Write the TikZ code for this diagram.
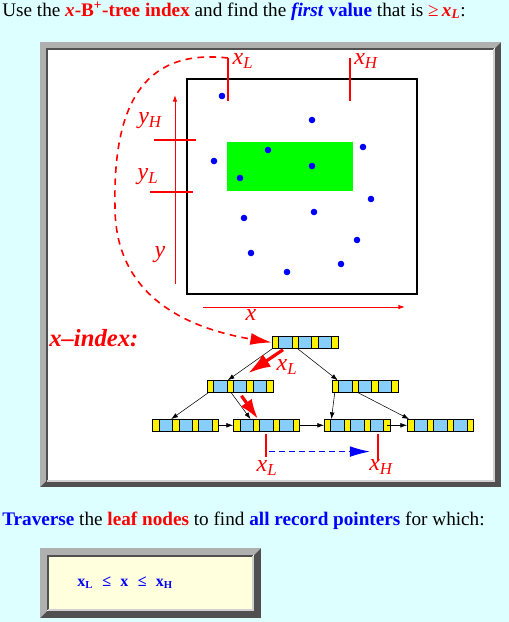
\documentclass[tikz,border=0pt]{standalone}
\usepackage{fontspec}
\setmainfont{Liberation Serif}
\usetikzlibrary{arrows.meta,calc}

\definecolor{pagecyan}{RGB}{221,255,255}
\definecolor{cellblue}{RGB}{135,206,250}
\definecolor{framelight}{RGB}{176,176,176}
\definecolor{framedark}{RGB}{80,80,80}
\definecolor{boxyellow}{RGB}{255,255,221}
\definecolor{hitgreen}{RGB}{0,255,0}

\begin{document}
\begin{tikzpicture}[x=0.75pt, y=-0.75pt,
	bnode/.style={draw, fill=cellblue, inner sep=0pt, minimum width=49.5pt, minimum height=9pt,
		path picture={\foreach \k in {0,...,3}
			\filldraw[fill=yellow, draw=black] ([xshift=\k*14.875pt]path picture bounding box.south west) rectangle ++(4.875pt,9pt);}},
	link/.style={black, -{Latex[length=5pt,width=3.5pt]}},
	search/.style={red, line width=2.4pt, -{Latex[length=17pt,width=11pt]}},
	axis/.style={red, line width=0.75pt, -{Latex[length=5pt,width=3.5pt]}},
	tick/.style={red, line width=1.3pt},
	lab/.style={text=red, inner sep=0pt, font=\fontsize{18}{18}\selectfont\itshape},
	txt/.style={anchor=base west, inner sep=0pt, font=\fontsize{14.4}{16}\selectfont}]
	\useasboundingbox (0,0) rectangle (509,622);
	\fill[pagecyan] (0,0) rectangle (509,622);
	% outer frame
	\fill[framedark] (40,42) rectangle (501,487);
	\fill[framelight] (40,487) -- (40,42) -- (501,42) -- (495,48) -- (46,48) -- (46,481) -- cycle;
	\fill[white] (46,48) rectangle (495,481);
	\draw[framedark, line width=1pt] (47,481) -- (47,49) -- (494,49);
	\draw[framelight!60, line width=1pt] (47,481) -- (494,481) -- (494,49);
	\node[txt] (title) at (2,16) {Use the \textcolor{red}{\textbf{\textit{x}-B\textsuperscript{+}-tree index}} and find the \textcolor{blue}{\textbf{\textit{first} value}} that is \textcolor{red}{≥\,\textbf{\textit{x}\textsubscript{\textit{L}}}}:};

	% data space
	\fill[hitgreen] (227,142) rectangle (353,191);
	\draw[line width=0.8pt] (187,79) rectangle (417,294);
	\foreach \px/\py in {222/96, 312/120, 363/147, 214/161, 268/150, 312/166, 240/178,
		371/199, 314/212, 244/218, 357/240, 251/253, 341/264, 287/272}
		\fill[blue] (\px,\py) circle (3.3);
	\draw[axis] (175,284) -- (175,95);
	\draw[axis] (203,307) -- (405,307);
	\draw[tick] (228,58) -- (228,101);
	\draw[tick] (350,58) -- (350,101);
	\draw[tick] (154,140) -- (196,140);
	\draw[tick] (150,192) -- (193,192);
	\node[lab] (xl) at (243,61) {x\textsubscript{L}};
	\node[lab] (xh) at (366,61) {x\textsubscript{H}};
	\node[lab] (yh) at (150,121) {y\textsubscript{H}};
	\node[lab] (yl) at (148,177) {y\textsubscript{L}};
	\node[lab] (ylab) at (160,255) {y};
	\node[lab] (xlab) at (251,315) {x};

	% B+-tree on x
	\node[txt, text=red, font=\fontsize{18.5}{18.5}\selectfont\bfseries\itshape] (xindex) at (49,346) {x--index:};
	\node[bnode] (root) at (305,342.5) {};
	\node[bnode] (midL) at (240,386.5) {};
	\node[bnode] (midR) at (365,386.5) {};
	\node[bnode] (leafA) at (185.5,425.3) {};
	\node[bnode] (leafB) at (266.3,425.3) {};
	\node[bnode] (leafC) at (357.2,425.3) {};
	\node[bnode] (leafD) at (440.3,425.3) {};
	\draw[link] ($(root.south west)+(0.5,0)$) -- ($(midL.north west)+(21,0)$);
	\draw[link] ($(root.south west)+(26,0)$) -- ($(midR.north west)+(6,0)$);
	\draw[link] ($(midL.south west)+(1.5,0)$) -- ($(leafA.north west)+(19,0)$);
	\draw[link] ($(midL.south west)+(24.5,0)$) -- ($(leafB.north west)+(17.5,0)$);
	\draw[link] ($(midR.south west)+(3,0)$) -- ($(leafC.north west)+(7.5,0)$);
	\draw[link] ($(midR.south west)+(26.5,0)$) -- ($(leafD.north west)+(2,0)$);
	\draw[link] (leafA.east) -- (leafB.west);
	\draw[link] (leafB.east) -- (leafC.west);
	\draw[link] ($(leafC.east)+(-3,0)$) -- (leafD.west);

	% search path
	\draw[red, line width=1.2pt, dash pattern=on 5pt off 4pt, -{Latex[length=16pt,width=9pt]}]
		(228,58) .. controls (140,48) and (113,110) .. (115,207)
		.. controls (115,295) and (185,328) .. (root.west);
	\draw[search] ($(root.south west)+(11.3,1)$) -- ($(midL.north west)+(41.3,-7)$);
	\node[lab] (xlsearch) at (287,367) {x\textsubscript{L}};
	\draw[search, -{Latex[length=15pt,width=10pt]}] ($(midL.south west)+(34.7,3)$) -- ($(leafB.north west)+(25,0)$);
	\coordinate (lotick) at ($(leafB.south west)+(32.7,2)$);
	\coordinate (hitick) at ($(leafC.south west)+(54,2)$);
	\draw[tick] (lotick) -- ++(0,23);
	\draw[tick] (hitick) -- ++(0,27);
	\node[lab] (xllow) at (267,468) {x\textsubscript{L}};
	\node[lab] (xhlow) at (381,467) {x\textsubscript{H}};
	\draw[blue, line width=0.8pt, dash pattern=on 4.5pt off 3pt, -{Latex[length=15pt,width=8pt]}]
		($(lotick)+(3,18)$) -- ($(hitick)+(-8,18)$);

	% bottom
	\node[txt] (traverse) at (2,525) {\textcolor{blue}{\textbf{Traverse}} the \textcolor{red}{\textbf{leaf nodes}} to find \textcolor{blue}{\textbf{all record pointers}} for which:};
	\fill[framedark] (40,548) rectangle (261,618);
	\fill[framelight] (40,618) -- (40,548) -- (261,548) -- (254,555) -- (47,555) -- (47,611) -- cycle;
	\fill[boxyellow] (47,555) rectangle (254,611);
	\draw[framedark, line width=0.8pt] (48,610) -- (48,556) -- (253,556);
	\draw[framelight!60, line width=0.8pt] (48,610) -- (253,610) -- (253,556);
	\node[txt, text=blue, font=\fontsize{12}{12}\selectfont\bfseries] (rule) at (77,586)
		{x\textsubscript{L}\hspace{7pt}≤\hspace{7pt}x\hspace{7pt}≤\hspace{7pt}x\textsubscript{H}};
\end{tikzpicture}
\end{document}
